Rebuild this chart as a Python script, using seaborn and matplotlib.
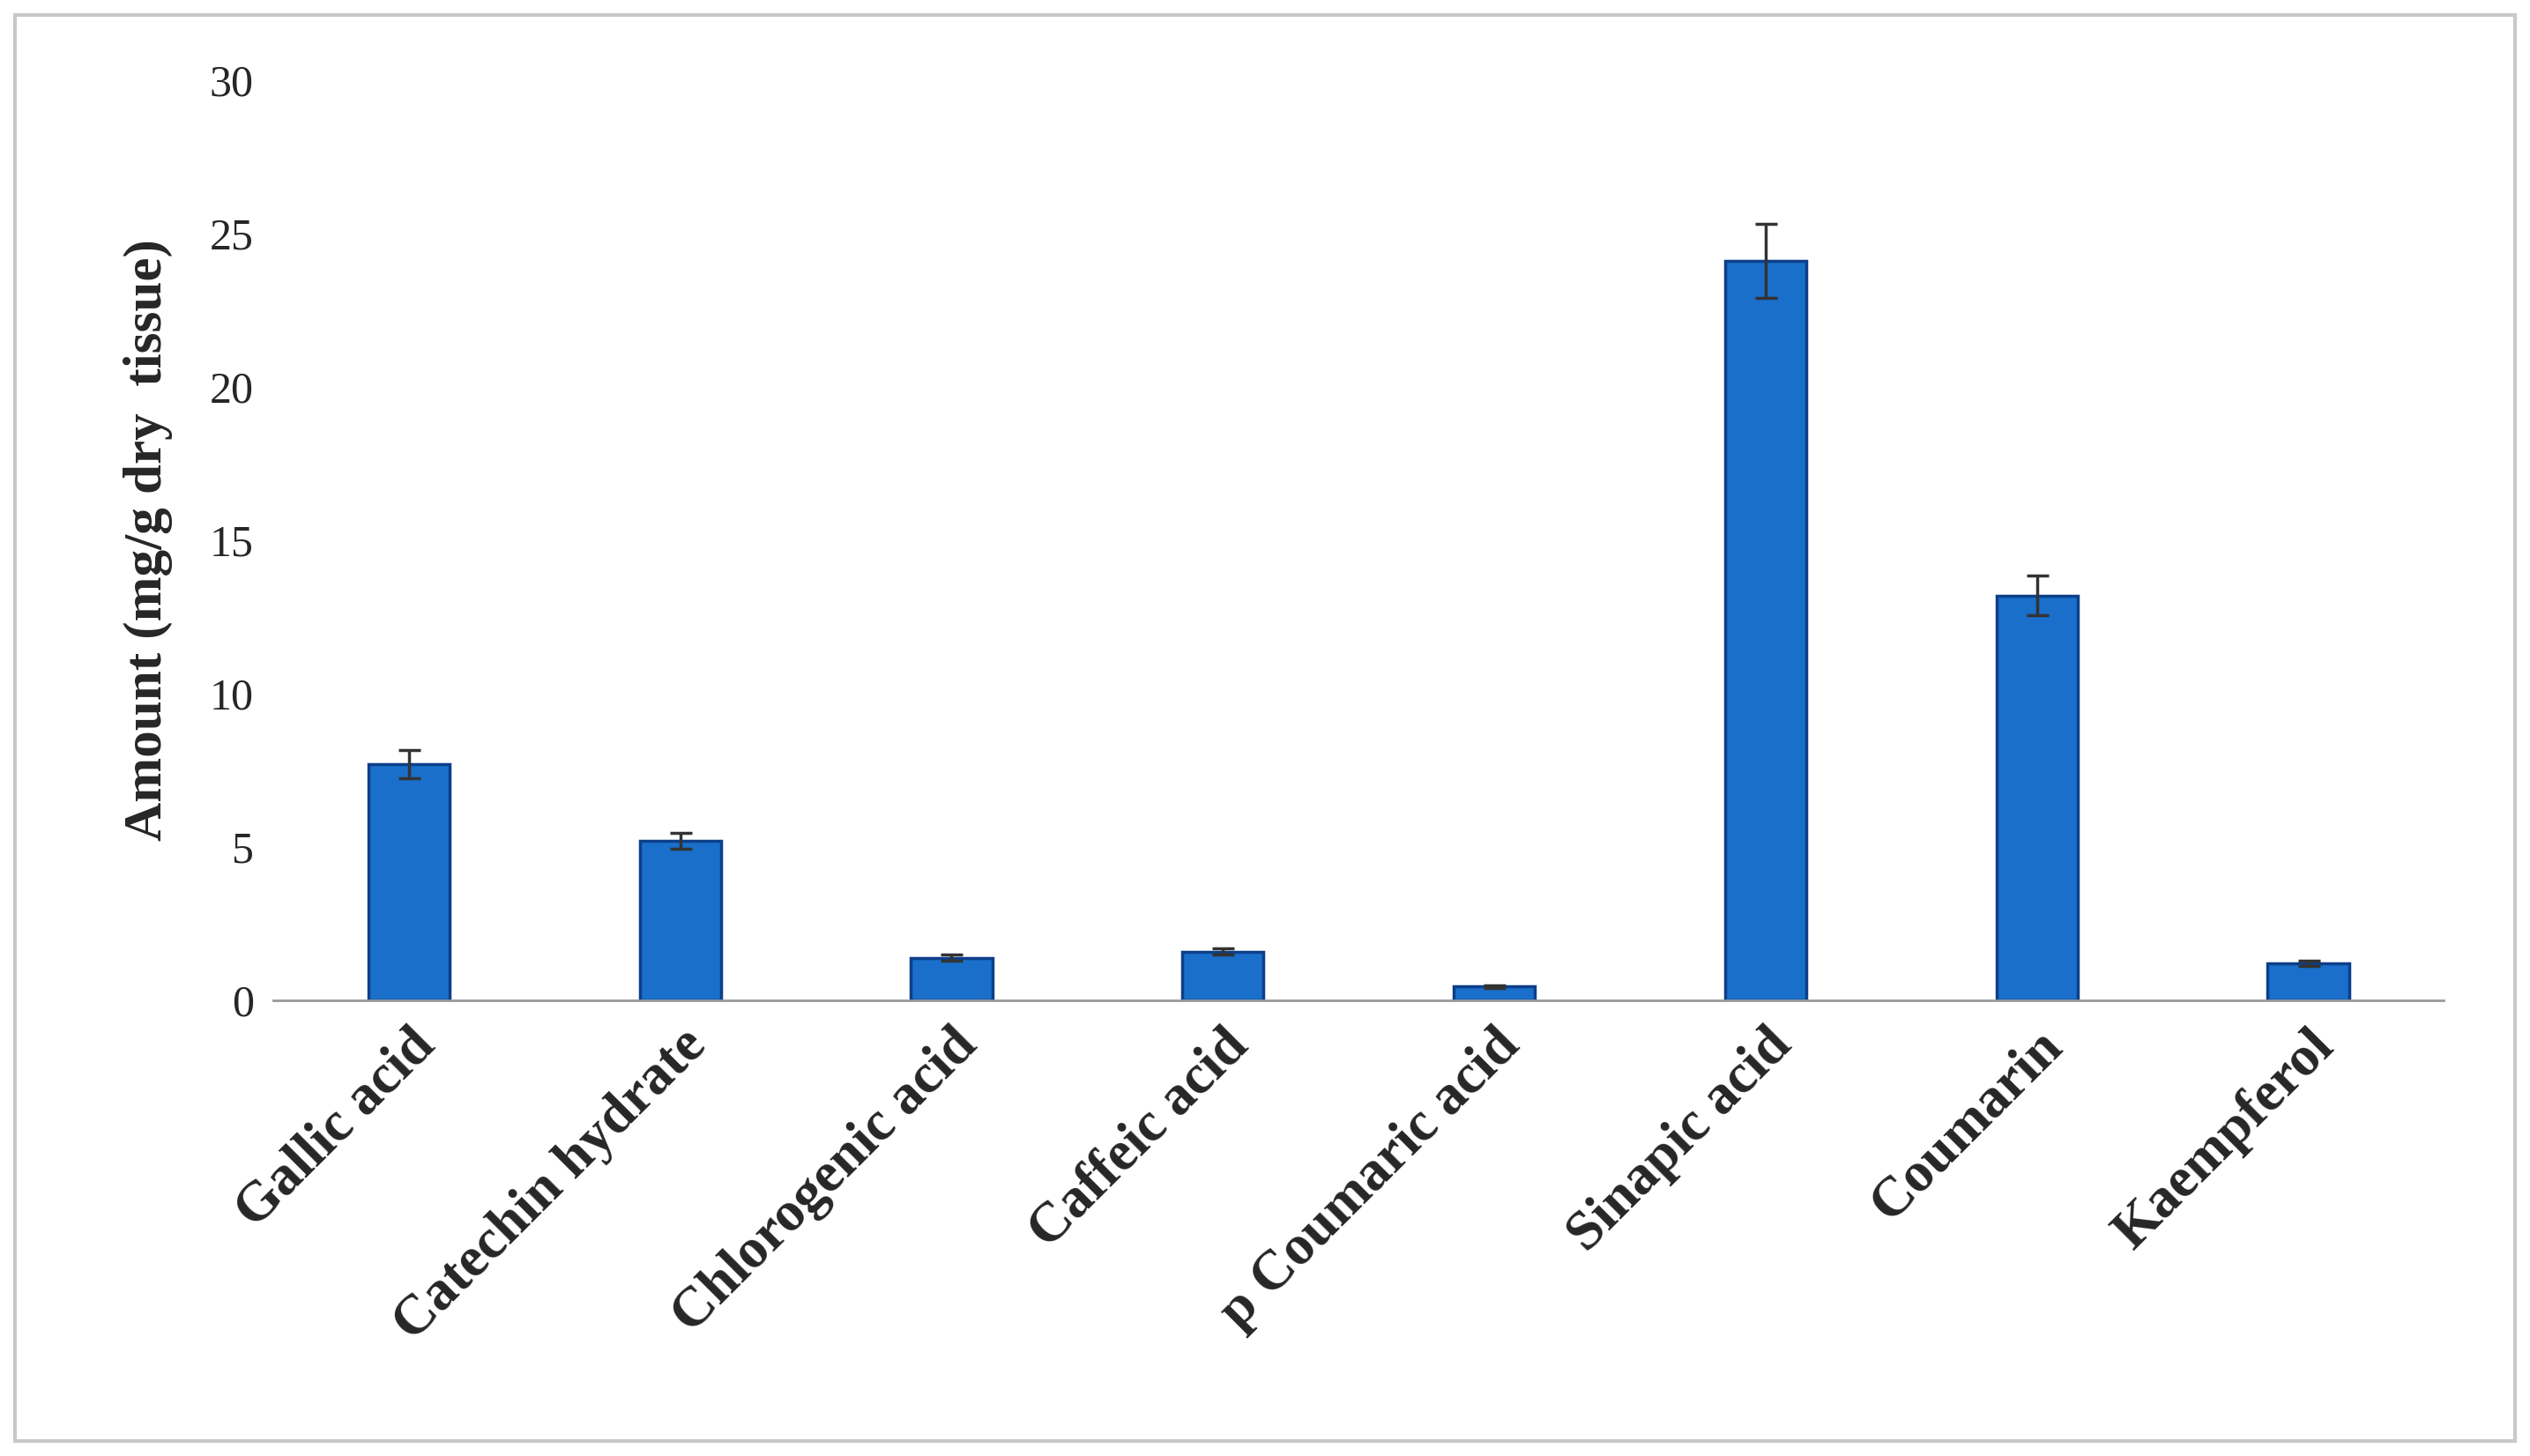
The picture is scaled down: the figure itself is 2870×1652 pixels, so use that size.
import matplotlib
matplotlib.use("Agg")
import matplotlib.pyplot as plt
import seaborn as sns
import pandas as pd
from matplotlib.patches import Rectangle

categories = ["Gallic acid", "Catechin hydrate", "Chlorogenic acid", "Caffeic acid",
              "p Coumaric acid", "Sinapic acid", "Coumarin", "Kaempferol"]
values = [7.7, 5.2, 1.38, 1.58, 0.45, 24.1, 13.2, 1.2]
errors = [0.45, 0.25, 0.1, 0.1, 0.05, 1.2, 0.65, 0.08]
yticks = [0, 5, 10, 15, 20, 25, 30]

sns.set_style("white")
plt.rcParams['font.family'] = ['Liberation Serif', 'DejaVu Serif']

df = pd.DataFrame({"cat": categories, "val": values})
fig = plt.figure(figsize=(28.7, 16.52), dpi=100)
ax = fig.add_axes([0.108, 0.313, 0.858, 0.632])
sns.barplot(data=df, x="cat", y="val", ax=ax, color="#1a6fca", width=0.3,
            edgecolor="#0d3f8a", linewidth=2.5, saturation=1, errorbar=None)
ax.errorbar(range(len(values)), values, yerr=errors, fmt="none", ecolor="#333333",
            elinewidth=2.5, capsize=9, capthick=2.5)
ax.set_ylim(0, 30)
ax.set_yticks(yticks)
ax.set_yticklabels([str(t) for t in yticks], fontsize=36)
ax.set_xlim(-0.5, len(values) - 0.5)
ax.set_xticks(range(len(categories)))
ax.set_xticklabels(categories, rotation=45, ha="right", rotation_mode="anchor",
                   fontsize=46, fontweight="bold")
ax.set_xlabel("")
ax.set_ylabel("Amount (mg/g dry  tissue)", fontsize=44, fontweight="bold", labelpad=30)
for s in ["top", "right", "left"]:
    ax.spines[s].set_visible(False)
ax.spines["bottom"].set_color("#999999")
ax.spines["bottom"].set_linewidth(2)
ax.tick_params(axis="both", length=0, pad=16)
fig.patches.append(Rectangle((0.006, 0.01), 0.988, 0.98, transform=fig.transFigure,
                             fill=False, edgecolor="#c8c8c8", linewidth=3))
fig.savefig("out.png", dpi=100)
